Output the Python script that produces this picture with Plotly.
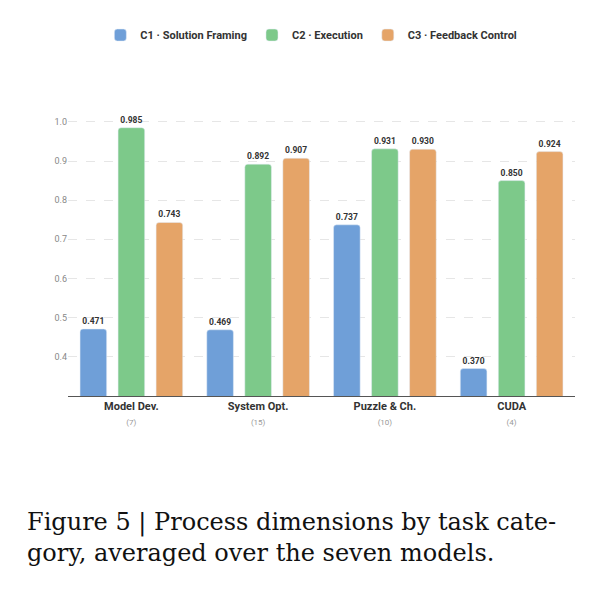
import plotly.graph_objects as go

categories = ["Model Dev.", "System Opt.", "Puzzle & Ch.", "CUDA"]
counts = ["(7)", "(15)", "(10)", "(4)"]
c1 = [0.471, 0.469, 0.737, 0.370]
c2 = [0.985, 0.892, 0.931, 0.850]
c3 = [0.743, 0.907, 0.930, 0.924]

SERIES = [
    ("C1 · Solution Framing", c1, "#6f9fd8"),
    ("C2 · Execution", c2, "#7dc98a"),
    ("C3 · Feedback Control", c3, "#e5a468"),
]

ticktext = [f"<b>{c}</b><br><span style='font-size:8px;color:#999'>{n}</span>"
            for c, n in zip(categories, counts)]

fig = go.Figure()
for name, vals, color in SERIES:
    fig.add_trace(go.Bar(
        x=categories, y=vals, name=name,
        marker=dict(color=color, cornerradius=3),
        text=[f"<b>{v:.3f}</b>" for v in vals],
        textposition="outside", cliponaxis=False,
        textfont=dict(size=8.5, color="#333"),
    ))

fig.add_annotation(
    text="Figure 5 | Process dimensions by task cate-<br>gory, averaged over the seven models.",
    xref="paper", yref="paper", x=-0.085, y=-0.39, xanchor="left", yanchor="top",
    align="left", showarrow=False,
    font=dict(family="DejaVu Serif, Liberation Serif, serif", size=24, color="#111"),
)

fig.update_layout(
    width=597, height=595,
    margin=dict(l=60, r=30, t=72, b=207),
    plot_bgcolor="white", paper_bgcolor="white",
    font=dict(family="Roboto, Liberation Sans, sans-serif", color="#333"),
    barmode="group", bargap=0.1, bargroupgap=0.3,
    legend=dict(orientation="h", x=0.48, xanchor="center", y=1.28, yanchor="middle",
                font=dict(size=11, color="#333", weight="bold")),
    xaxis=dict(tickvals=categories, ticktext=ticktext, tickfont=dict(size=11, color="#333"),
               showline=True, linecolor="#555", linewidth=1),
    yaxis=dict(range=[0.3, 1.02], tickvals=[0.4, 0.5, 0.6, 0.7, 0.8, 0.9, 1.0],
               ticktext=["0.4", "0.5", "0.6", "0.7", "0.8", "0.9", "1.0"],
               tickfont=dict(size=9, color="#888"),
               gridcolor="#e6e6e6", griddash="dash", zeroline=False),
)

fig.write_html("out.html")
